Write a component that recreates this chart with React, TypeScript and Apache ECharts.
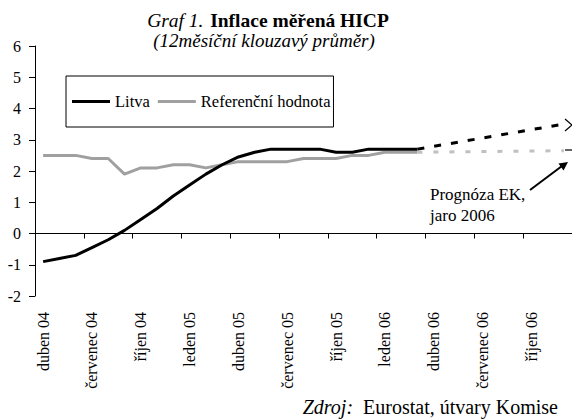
import React, { useEffect, useRef } from 'react';
import * as echarts from 'echarts';

const FONT = 'Liberation Serif';

const months = [
  'duben 04', 'květen 04', 'červen 04', 'červenec 04', 'srpen 04', 'září 04',
  'říjen 04', 'listopad 04', 'prosinec 04', 'leden 05', 'únor 05', 'březen 05',
  'duben 05', 'květen 05', 'červen 05', 'červenec 05', 'srpen 05', 'září 05',
  'říjen 05', 'listopad 05', 'prosinec 05', 'leden 06', 'únor 06', 'březen 06',
  'duben 06', 'květen 06', 'červen 06', 'červenec 06', 'srpen 06', 'září 06',
  'říjen 06', 'listopad 06', 'prosinec 06',
];

const litva = [
  -0.9, -0.8, -0.7, -0.45, -0.2, 0.1, 0.45, 0.8, 1.2, 1.55, 1.9, 2.2,
  2.45, 2.6, 2.7, 2.7, 2.7, 2.7, 2.6, 2.6, 2.7, 2.7, 2.7, 2.7,
];

const referencni = [
  2.5, 2.5, 2.5, 2.4, 2.4, 1.9, 2.1, 2.1, 2.2, 2.2, 2.1, 2.2,
  2.3, 2.3, 2.3, 2.3, 2.4, 2.4, 2.4, 2.5, 2.5, 2.6, 2.6, 2.6,
];

// forecast endpoints (March 2006 -> December 2006)
const litvaPrognozaStart = 2.7;
const litvaPrognozaEnd = 3.5;
const refPrognozaStart = 2.6;
const refPrognozaEnd = 2.65;

const yTicks = { min: -2, max: 6, interval: 1 };

function forecast(start: number, end: number) {
  const arr: (number | null)[] = months.map(() => null);
  arr[litva.length - 1] = start;
  arr[months.length - 1] = end;
  return arr;
}

export default function App() {
  const ref = useRef<HTMLDivElement>(null);

  useEffect(() => {
    if (!ref.current) return;
    const chart = echarts.init(ref.current, null, { renderer: 'svg' });
    const option: any = {
      animation: false,
      backgroundColor: '#fff',
      textStyle: { fontFamily: FONT },
      grid: { left: 35, top: 46, right: -9, bottom: 123, containLabel: false },
      legend: {
        left: 66,
        top: 76,
        data: [
          { name: 'Litva', icon: 'rect', itemStyle: { color: '#000' } },
          { name: 'Referenční hodnota', icon: 'rect', itemStyle: { color: '#a0a0a0' } },
        ],
        itemWidth: 38,
        itemHeight: 3,
        itemGap: 8,
        padding: [17, 3, 17, 6],
        borderColor: '#000',
        borderWidth: 1,
        borderRadius: 0,
        backgroundColor: '#fff',
        textStyle: { fontFamily: FONT, fontSize: 16.5, color: '#000' },
      },
      xAxis: [
        {
          type: 'category',
          data: months,
          boundaryGap: true,
          position: 'bottom',
          axisLine: { show: false, onZero: false },
          axisTick: { show: false },
          axisLabel: {
            interval: 2,
            rotate: 90,
            margin: 16,
            fontFamily: FONT,
            fontSize: 16,
            color: '#000',
          },
          splitLine: { show: false },
        },
        {
          type: 'category',
          data: months,
          boundaryGap: true,
          position: 'top',
          axisLine: { show: true, onZero: true, lineStyle: { color: '#000', width: 1 } },
          axisTick: { show: true, inside: true, interval: 2, length: 5, lineStyle: { color: '#000' } },
          axisLabel: { show: false },
          splitLine: { show: false },
        },
      ],
      yAxis: {
        type: 'value',
        min: yTicks.min,
        max: yTicks.max,
        interval: yTicks.interval,
        axisLine: { show: true, onZero: false, lineStyle: { color: '#000', width: 1 } },
        axisTick: { show: true, length: 6, lineStyle: { color: '#000' } },
        axisLabel: { margin: 14, fontFamily: FONT, fontSize: 16, color: '#000' },
        splitLine: { show: false },
      },
      series: [
        {
          name: 'Litva',
          type: 'line',
          data: litva,
          symbol: 'none',
          lineStyle: { color: '#000', width: 3 },
          itemStyle: { color: '#000' },
          z: 4,
        },
        {
          name: 'Referenční hodnota',
          type: 'line',
          data: referencni,
          symbol: 'none',
          lineStyle: { color: '#a0a0a0', width: 3 },
          itemStyle: { color: '#a0a0a0' },
          z: 3,
        },
        {
          name: 'Litva prognóza',
          type: 'line',
          data: forecast(litvaPrognozaStart, litvaPrognozaEnd),
          connectNulls: true,
          symbol: 'none',
          lineStyle: { color: '#000', width: 3, type: [7, 10] },
          z: 4,
        },
        {
          name: 'Referenční prognóza',
          type: 'line',
          data: forecast(refPrognozaStart, refPrognozaEnd),
          connectNulls: true,
          symbol: 'none',
          lineStyle: { color: '#c0c0c0', width: 3, type: [5, 11] },
          z: 3,
        },
      ],
      graphic: [
        {
          type: 'text',
          x: 268,
          y: 10,
          style: {
            text: '{i|Graf 1.}  {b|Inflace měřená HICP}',
            rich: {
              i: { fontStyle: 'italic', fontSize: 19.5, fontFamily: FONT, fill: '#000' },
              b: { fontWeight: 'bold', fontSize: 19.5, fontFamily: FONT, fill: '#000' },
            },
            textAlign: 'center',
            textVerticalAlign: 'top',
            fill: '#000',
          },
        },
        {
          type: 'text',
          x: 264,
          y: 31,
          style: {
            text: '(12měsíční klouzavý průměr)',
            fontStyle: 'italic',
            fontSize: 19,
            fontFamily: FONT,
            textAlign: 'center',
            textVerticalAlign: 'top',
            fill: '#000',
          },
        },
        {
          type: 'text',
          x: 430,
          y: 184,
          style: {
            text: 'Prognóza EK,\njaro 2006',
            fontSize: 17,
            fontFamily: FONT,
            lineHeight: 21,
            textAlign: 'left',
            textVerticalAlign: 'top',
            fill: '#000',
          },
        },
        {
          type: 'line',
          shape: { x1: 530, y1: 190, x2: 562, y2: 166 },
          style: { stroke: '#000', lineWidth: 2 },
        },
        {
          type: 'polygon',
          shape: { points: [[568, 162], [563.5, 170.5], [558.5, 163.5]] },
          style: { fill: '#000' },
        },
        {
          type: 'polyline',
          shape: { points: [[565, 119], [572, 125], [565, 131]] },
          style: { stroke: '#000', lineWidth: 1.2, fill: 'none' },
        },
        {
          type: 'line',
          shape: { x1: 565, y1: 150, x2: 572, y2: 150 },
          style: { stroke: '#000', lineWidth: 1.2 },
        },
        {
          type: 'text',
          x: 558,
          y: 397,
          style: {
            text: '{i|Zdroj:}  Eurostat, útvary Komise',
            rich: {
              i: { fontStyle: 'italic', fontSize: 20, fontFamily: FONT, fill: '#000' },
            },
            fontSize: 20,
            fontFamily: FONT,
            textAlign: 'right',
            textVerticalAlign: 'top',
            fill: '#000',
          },
        },
      ],
    };
    chart.setOption(option);
    return () => chart.dispose();
  }, []);

  return (
    <div
      ref={ref}
      style={{ position: 'absolute', left: 0, top: 0, width: 572, height: 419 }}
    />
  );
}
